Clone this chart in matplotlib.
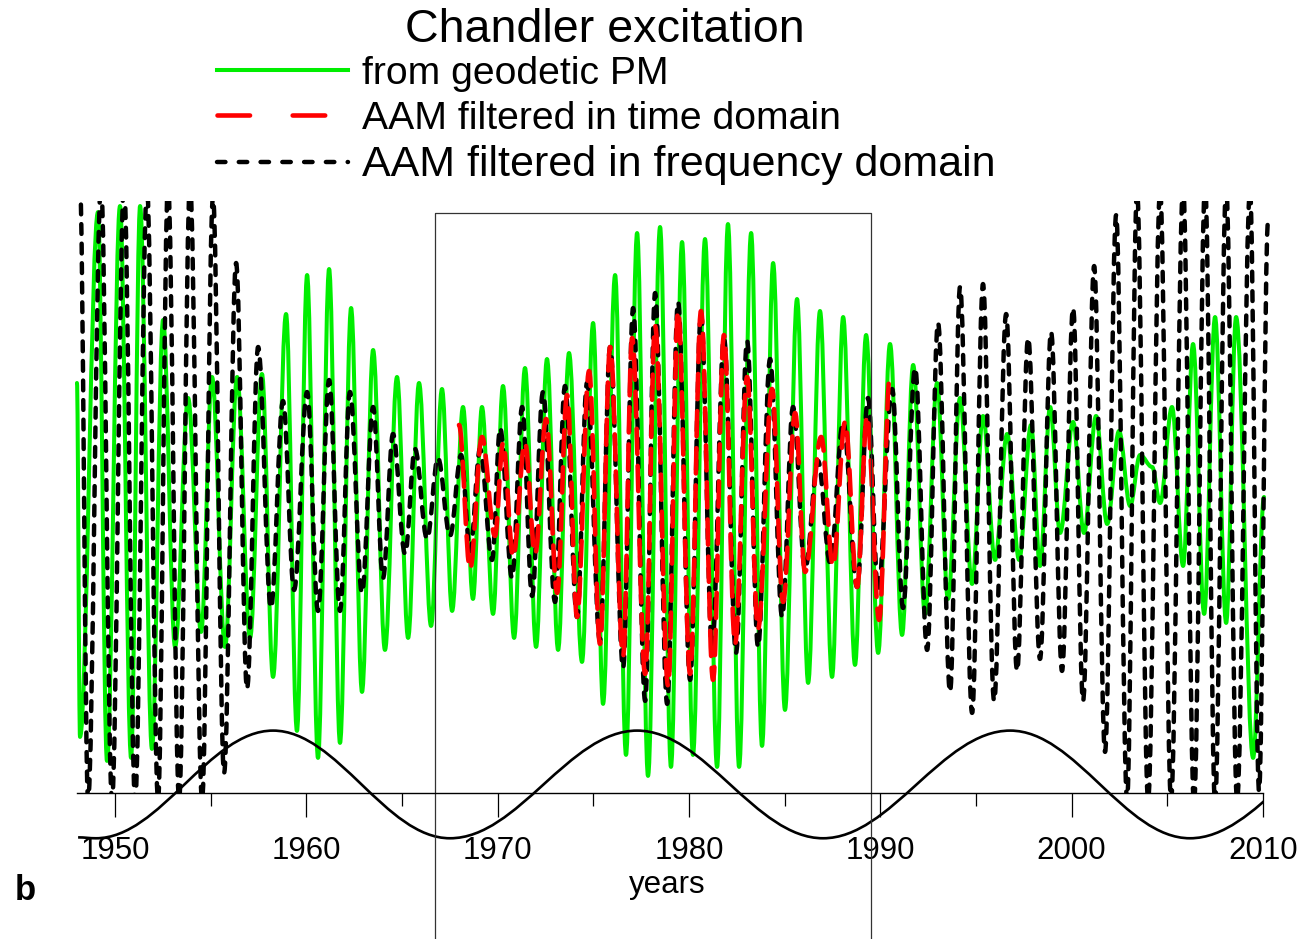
import numpy as np
import matplotlib.pyplot as plt
from matplotlib.path import Path
from matplotlib.patches import PathPatch, Rectangle
from matplotlib.lines import Line2D

plt.rcParams['font.family'] = ['Liberation Sans', 'DejaVu Sans']

# turning points (year, excitation) of the geodetic series
geo_year = [1948.01, 1948.17, 1949.11, 1949.58, 1950.26, 1950.84, 1951.31, 1951.93, 1952.51, 1953.14,
            1953.82, 1954.50, 1955.07, 1955.75, 1956.38, 1957.06, 1957.68, 1958.26, 1958.94, 1959.51,
            1960.04, 1960.61, 1961.19, 1961.76, 1962.34, 1962.91, 1963.49, 1964.11, 1964.74, 1965.32,
            1965.89, 1966.52, 1967.09, 1967.62, 1968.19, 1968.71, 1969.18, 1969.76, 1970.28, 1970.86,
            1971.43, 1972.01, 1972.58, 1973.16, 1973.73, 1974.41, 1974.99, 1975.51, 1976.14, 1976.71,
            1977.29, 1977.86, 1978.49, 1979.06, 1979.64, 1980.21, 1980.84, 1981.47, 1982.04, 1982.62,
            1983.25, 1983.82, 1984.40, 1985.02, 1985.65, 1986.23, 1986.85, 1987.48, 1988.06, 1988.68,
            1989.26, 1989.89, 1990.51, 1991.14, 1991.72, 1992.34, 1992.97, 1993.54, 1994.17, 1994.80,
            1995.37, 1996.00, 1996.63, 1997.26, 1997.88, 1998.35, 1998.88, 1999.40, 2000.08, 2000.65,
            2001.28, 2001.86, 2002.48, 2003.06, 2003.58, 2004.21, 2004.63, 2005.25, 2005.83, 2006.35,
            2006.93, 2007.50, 2008.08, 2008.60, 2009.49, 2010.06]
geo_val = [39, -79, 96, -87, 98, -86, 98, -83, 60, -49,
           34, -44, 41, -49, 41, -46, 42, -59, 62, -77,
           75, -86, 77, -81, 64, -64, 50, -50, 41, -46,
           39, -42, 37, -37, 31, -33, 31, -38, 38, -46,
           44, -49, 47, -50, 49, -54, 59, -68, 75, -85,
           89, -92, 91, -89, 86, -85, 87, -89, 92, -89,
           89, -82, 79, -70, 67, -61, 63, -59, 61, -55,
           55, -51, 52, -45, 45, -38, 39, -33, 34, -28,
           28, -20, 22, -20, 25, -22, 31, -11, 26, -11,
           28, -8, 23, -2, 15, 11, -1, 31, -22, 52,
           -38, 61, -41, 61, -86, 1]

# AAM, filtered in the time domain
aamt_year = [1967.98, 1968.56, 1969.18, 1969.86, 1970.28, 1970.81, 1971.43, 1971.96, 1972.53, 1973.11,
             1973.63, 1974.15, 1974.78, 1975.35, 1975.88, 1976.56, 1977.03, 1977.71, 1978.23, 1978.91,
             1979.43, 1980.06, 1980.63, 1981.26, 1981.83, 1982.41, 1983.04, 1983.61, 1984.34, 1984.92,
             1985.55, 1986.07, 1986.91, 1987.53, 1988.16, 1988.79, 1989.31, 1989.94, 1990.51]
aamt_val = [25, -23, 21, -12, 19, -19, 19, -18, 27, -31,
            35, -39, 43, -48, 51, -52, 54, -58, 58, -62,
            63, -58, 63, -60, 55, -48, 41, -43, 37, -34,
            29, -24, 21, -22, 26, -29, 28, -40, 42]

# AAM, filtered in the frequency domain
aamf_year = [1948.17, 1948.59, 1949.27, 1949.84, 1950.47, 1951.05, 1951.67, 1952.25, 1952.77, 1953.35,
             1953.92, 1954.55, 1955.12, 1955.70, 1956.33, 1956.90, 1957.48, 1958.15, 1958.78, 1959.36,
             1960.04, 1960.61, 1961.19, 1961.76, 1962.28, 1962.91, 1963.49, 1964.01, 1964.53, 1965.16,
             1965.68, 1966.31, 1966.88, 1967.51, 1968.09, 1968.56, 1969.08, 1969.71, 1970.13, 1970.75,
             1971.28, 1971.80, 1972.37, 1973.00, 1973.52, 1974.15, 1974.67, 1975.35, 1975.88, 1976.56,
             1977.08, 1977.71, 1978.23, 1978.86, 1979.43, 1980.06, 1980.63, 1981.21, 1981.83, 1982.46,
             1983.04, 1983.61, 1984.24, 1984.87, 1985.44, 1986.07, 1986.75, 1987.38, 1988.06, 1988.79,
             1989.36, 1989.89, 1990.62, 1991.19, 1991.82, 1992.45, 1993.02, 1993.65, 1994.17, 1994.80,
             1995.37, 1995.95, 1996.58, 1997.15, 1997.73, 1998.35, 1998.93, 1999.50, 2000.08, 2000.60,
             2001.18, 2001.75, 2002.33, 2002.90, 2003.42, 2004.00, 2004.63, 2005.20, 2005.83, 2006.40,
             2006.98, 2007.50, 2008.08, 2008.65, 2009.33, 2009.80, 2010.27]
aamf_val = [105, -100, 105, -100, 105, -100, 104, -100, 105, -100,
            105, -100, 101, -91, 79, -63, 51, -36, 33, -30,
            36, -37, 40, -37, 36, -31, 31, -26, 22, -18,
            17, -13, 14, -12, 15, -17, 17, -20, 24, -26,
            31, -32, 36, -34, 38, -39, 39, -47, 51, -56,
            64, -67, 69, -68, 66, -60, 62, -49, 54, -51,
            53, -49, 47, -39, 31, -23, 13, -21, 26, -29,
            34, -30, 37, -36, 44, -50, 59, -64, 71, -71,
            72, -67, 62, -57, 54, -53, 56, -57, 64, -67,
            78, -84, 95, -100, 103, -100, 103, -100, 104, -101,
            105, -101, 104, -100, 103, -97, 93]

# slow modulation wave under the time axis
wave_year = [1948.07, 1949.00, 1958.26, 1967.51, 1977.29, 1987.01, 1996.79, 2006.19, 2015.90]
wave_val = [-112.5, -112.8, -76.9, -112.8, -76.9, -112.8, -76.9, -112.8, -76.9]

# span marked by the frame
frame_years = [1966.73, 1989.52]
frame_top = 95.7

labels = ['from geodetic PM', 'AAM filtered in time domain', 'AAM filtered in frequency domain']


def turning_path(t, v):
    # cubic segments with flat tangents at every turning point
    verts = [(t[0], v[0])]
    codes = [Path.MOVETO]
    for i in range(len(t) - 1):
        d = 0.364 * (t[i + 1] - t[i])
        verts += [(t[i] + d, v[i]), (t[i + 1] - d, v[i + 1]), (t[i + 1], v[i + 1])]
        codes += [Path.CURVE4] * 3
    return Path(verts, codes)


fig = plt.figure(figsize=(13.04, 9.39), dpi=100)
ax = fig.add_axes([0.0574, 0.1555, 0.9184, 0.6305])
ax.set_xlim(1947.9, 2010.5)
ax.set_ylim(-97.7, 99.7)

green = dict(color='#00ee00', lw=2.9, ls='-')
red = dict(color='#ff0000', lw=3.3, ls=(0, (5.5, 2.6)))
black = dict(color='black', lw=3.2, ls=(0, (2.2, 2.2)))

ax.add_patch(PathPatch(turning_path(geo_year, geo_val), fill=False, capstyle='round',
                       joinstyle='round', **green))
ax.add_patch(PathPatch(turning_path(aamf_year, aamf_val), fill=False, capstyle='round',
                       joinstyle='round', **black))
ax.add_patch(PathPatch(turning_path(aamt_year, aamt_val), fill=False, capstyle='round',
                       joinstyle='round', **red))

# the wave hangs below the axis line but stops at 2010
wave = PathPatch(turning_path(wave_year, wave_val), fill=False, color='black', lw=1.9)
ax.add_patch(wave)
wave.set_clip_path(Rectangle((1947.0, -200), 2010.0 - 1947.0, 200, transform=ax.transData))

x0, x1 = frame_years
ax.plot([x0, x0, x1, x1], [-300, frame_top, frame_top, -300], color='#333333', lw=0.9,
        clip_on=False)

# axis: only the time line at the bottom
for side in ['left', 'right', 'top']:
    ax.spines[side].set_visible(False)
ax.spines['bottom'].set_bounds(1948, 2010)
ax.spines['bottom'].set_linewidth(1.0)
ax.set_yticks([])
ax.set_xticks(range(1950, 2011, 10))
ax.set_xticks(range(1955, 2010, 10), minor=True)
ax.tick_params(axis='x', which='major', direction='out', length=17, width=0.9,
               labelsize=22.5, pad=14)
ax.tick_params(axis='x', which='minor', direction='out', length=9, width=0.9)
ax.patch.set_visible(False)

fig.text(605 / 1304, 1 - 30 / 939, 'Chandler excitation', ha='center', va='center',
         fontsize=33.6)
fig.text(667 / 1304, 1 - 885 / 939, 'years', ha='center', va='center', fontsize=22.5)
fig.text(25 / 1304, 1 - 890 / 939, 'b', ha='center', va='center', fontsize=25,
         fontweight='bold')

# legend samples use a coarser dash rhythm than the curves
handles = [Line2D([], [], **green),
           Line2D([], [], color='#ff0000', lw=3.3, ls=(0, (7.1, 9.3)), dash_capstyle='round'),
           Line2D([], [], color='black', lw=3.2, ls=(0, (1.9, 3.0)), dash_capstyle='round')]
leg = ax.legend(handles, labels, frameon=False,
                loc='upper left', bbox_to_anchor=(213 / 1304, 1 - 52 / 939),
                bbox_transform=fig.transFigure, fontsize=28.2,
                handlelength=3.35, handletextpad=0.35, labelspacing=0.22,
                borderaxespad=0, borderpad=0.1)
leg.get_texts()[2].set_fontsize(31)

fig.savefig('out.png', dpi=100)
